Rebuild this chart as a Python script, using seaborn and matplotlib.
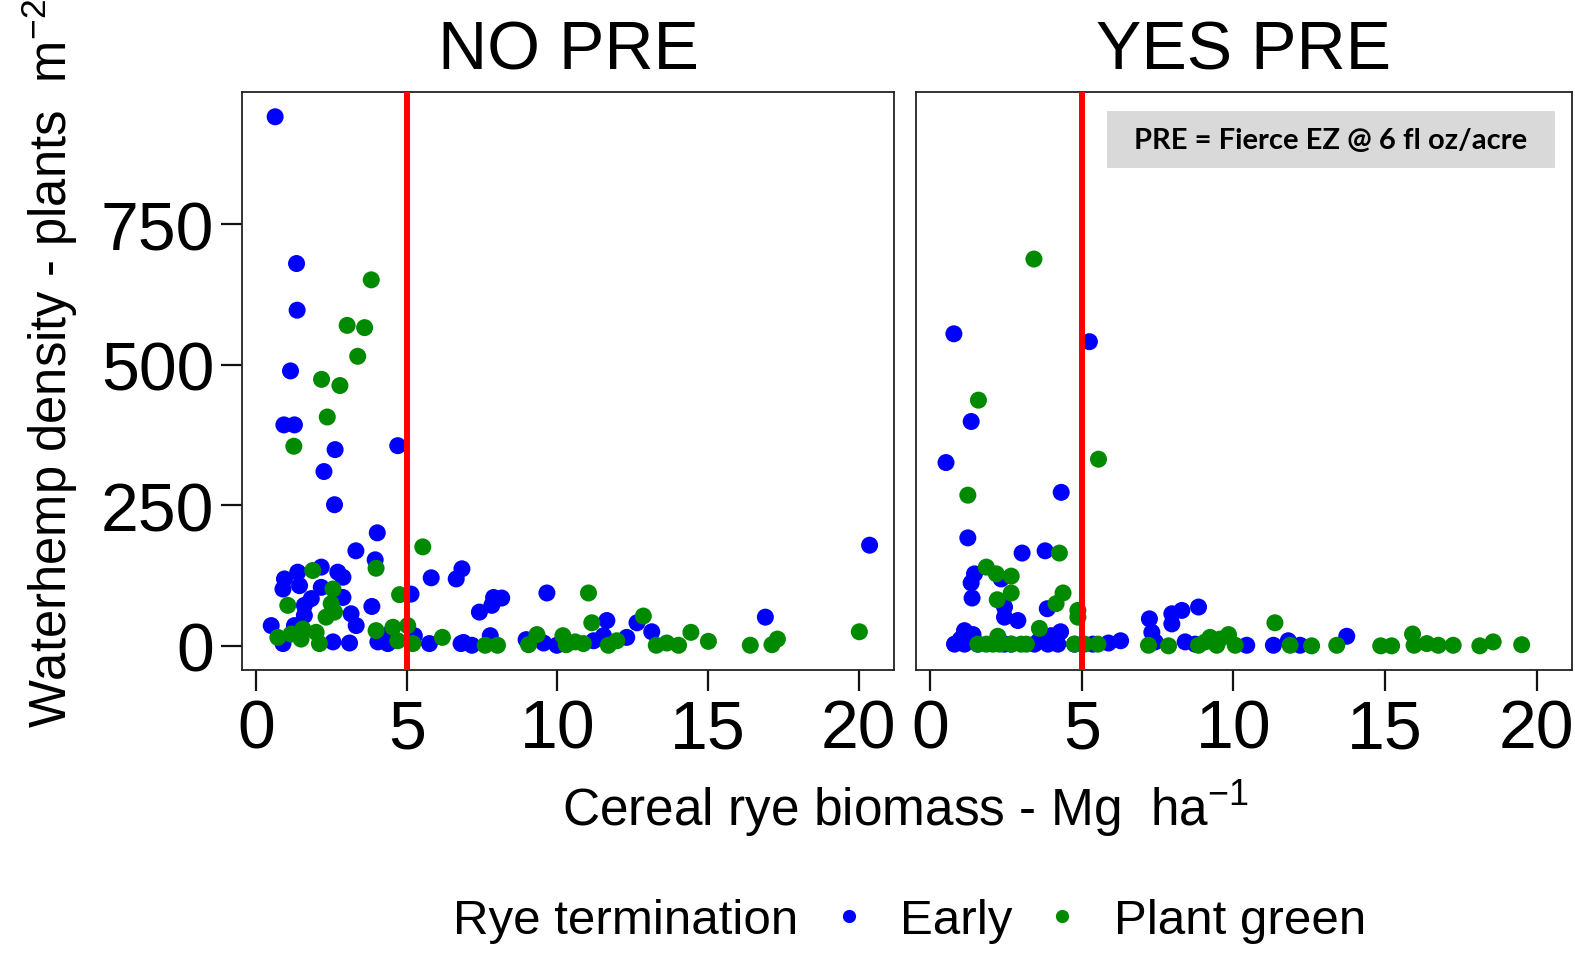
import matplotlib
matplotlib.use("Agg")
import matplotlib.pyplot as plt
from matplotlib.patches import Rectangle
from matplotlib.lines import Line2D
import seaborn as sns
import pandas as pd

# ---- data: cereal rye biomass (Mg/ha) vs waterhemp density (plants/m2) ----
no_pre_early_x = [0.63, 1.34, 1.36, 1.14, 0.92, 1.27, 2.62, 4.7, 2.25, 2.6, 4.02, 3.31, 3.95, 5.81,
                  6.64, 0.94, 1.38, 0.89, 1.44, 2.16, 2.71, 2.88, 2.16, 1.83, 2.88, 1.6, 1.6, 3.15,
                  3.32, 3.84, 5.14, 0.5, 1.27, 0.89, 2.55, 3.1, 4.42, 5.25, 4.04, 4.37, 5.75, 6.8,
                  6.83, 7.88, 8.15, 7.82, 7.41, 9.65, 16.9, 20.36, 11.64, 12.64, 13.13, 7.77, 6.88,
                  7.16, 8.96, 9.54, 9.98, 11.2, 11.53, 12.3]
no_pre_early_y = [941, 680, 597, 489, 393, 393, 349, 356, 310, 251, 201, 169, 153, 121,
                  119, 119, 131, 101, 107, 140, 131, 122, 104, 84, 86, 72, 54, 57,
                  36, 70, 92, 36, 36, 4, 7, 5, 21, 18, 7, 4, 4, 4,
                  137, 86, 85, 72, 60, 94, 51, 179, 45, 41, 25, 18, 6,
                  1, 11, 5, 1, 9, 18, 15]

no_pre_green_x = [3.82, 3.02, 3.6, 3.37, 2.17, 2.78, 2.36, 1.25, 3.98, 5.53, 1.88, 2.55, 1.05,
                  2.49, 2.6, 2.32, 4.76, 0.72, 1.16, 1.55, 1.99, 1.49, 2.1, 3.98, 4.54, 5.03,
                  4.7, 5.2, 6.18, 11.03, 20.02, 11.14, 12.85, 14.43, 15.01, 16.4, 17.12, 17.3,
                  7.6, 8.01, 9.04, 9.32, 10.18, 10.29, 10.59, 10.86, 11.69, 11.97, 13.28,
                  13.63, 14.02]
no_pre_green_y = [651, 570, 566, 515, 474, 463, 407, 355, 138, 176, 134, 101, 72,
                  75, 60, 51, 91, 15, 21, 30, 24, 12, 4, 27, 33, 36,
                  9, 4, 15, 94, 25, 41, 53, 24, 8, 1, 2, 12,
                  1, 1, 2, 20, 18, 2, 7, 4, 1, 9, 1,
                  5, 1]

yes_pre_early_x = [0.78, 5.25, 1.35, 0.52, 4.32, 1.24, 3.03, 3.79, 1.46, 2.34, 1.35, 1.38, 3.86,
                   2.45, 2.45, 2.89, 4.3, 1.13, 1.41, 3.99, 0.8, 1.13, 1.57, 2.45, 2.67, 3.44,
                   3.88, 4.21, 4.76, 5.36, 5.88, 6.28, 7.23, 7.97, 8.3, 8.85, 7.97, 7.31, 7.42,
                   8.41, 10.44, 11.32, 11.81, 12.2, 13.74, 8.74, 1.0, 3.6]
yes_pre_early_y = [555, 541, 399, 326, 273, 192, 165, 169, 128, 119, 112, 85, 66,
                   69, 51, 45, 25, 27, 20, 18, 3, 3, 3, 3, 3, 3,
                   3, 3, 3, 3, 5, 9, 48, 57, 63, 69, 39, 24, 7,
                   7, 1, 1, 9, 1, 17, 3, 12, 10]

yes_pre_green_x = [3.42, 1.59, 5.55, 1.24, 4.26, 1.85, 2.18, 2.67, 4.38, 2.67, 2.21, 4.15, 4.87,
                   4.87, 3.6, 2.23, 1.57, 1.85, 2.07, 2.29, 2.67, 3.0, 3.17, 4.76, 5.09, 5.53,
                   7.2, 7.86, 9.07, 9.23, 9.56, 9.84, 10.06, 11.37, 11.87, 12.58, 13.41, 14.86,
                   15.22, 15.91, 15.96, 16.38, 16.76, 17.25, 18.13, 18.57, 19.51, 8.85, 9.45]
yes_pre_green_y = [688, 437, 332, 268, 165, 140, 128, 124, 94, 94, 82, 75, 63,
                   51, 31, 17, 3, 3, 3, 3, 3, 3, 3, 3, 3, 3,
                   1, 0, 7, 15, 12, 20, 1, 41, 1, 0, 1, 0,
                   0, 21, 1, 4, 1, 1, 0, 7, 2, 1, 1]

panels = ["NO PRE", "YES PRE"]
groups = ["Early", "Plant green"]
x_ticks = [0, 5, 10, 15, 20]
y_ticks = [0, 250, 500, 750]
threshold = 5

# ---- tidy table ----
frames = []
for panel, group, xs, ys in [
    ("NO PRE", "Early", no_pre_early_x, no_pre_early_y),
    ("NO PRE", "Plant green", no_pre_green_x, no_pre_green_y),
    ("YES PRE", "Early", yes_pre_early_x, yes_pre_early_y),
    ("YES PRE", "Plant green", yes_pre_green_x, yes_pre_green_y),
]:
    frames.append(pd.DataFrame({"biomass": xs, "density": ys, "PRE": panel, "termination": group}))
df = pd.concat(frames, ignore_index=True)

# ---- style ----
sns.set_style("white")
plt.rcParams["font.family"] = ["Liberation Sans", "DejaVu Sans"]
plt.rcParams["mathtext.fontset"] = "custom"
plt.rcParams["mathtext.rm"] = "Liberation Sans"
plt.rcParams["mathtext.it"] = "Liberation Sans:italic"
plt.rcParams["mathtext.sf"] = "Liberation Sans"
for key in ["text.color", "axes.labelcolor", "xtick.color", "ytick.color"]:
    plt.rcParams[key] = "black"

palette = {"Early": "#0000ff", "Plant green": "#008a00"}

W, H = 1575, 954
fig = plt.figure(figsize=(W / 100, H / 100), dpi=100)


def fig_rect(x0, x1, ytop, ybot):
    return [x0 / W, 1 - ybot / H, (x1 - x0) / W, (ybot - ytop) / H]


axes = [fig.add_axes(fig_rect(242, 894, 92.5, 671)),
        fig.add_axes(fig_rect(916, 1572, 92.5, 671))]

xlim = (-0.47, 21.17)
ylim = (-43, 986)

for i, (ax, panel) in enumerate(zip(axes, panels)):
    sub = df[df["PRE"] == panel]
    sns.scatterplot(data=sub, x="biomass", y="density", hue="termination",
                    palette=palette, hue_order=groups, s=150, linewidth=0,
                    edgecolor="none", alpha=1, legend=False, ax=ax, zorder=3)
    ax.axvline(threshold, color="#ff0000", lw=4.3, zorder=4)
    ax.set_xlim(*xlim)
    ax.set_ylim(*ylim)
    ax.set_xticks(x_ticks)
    ax.set_xticklabels([str(t) for t in x_ticks])
    ax.set_xlabel("")
    ax.set_ylabel("")
    for sp in ax.spines.values():
        sp.set_visible(True)
        sp.set_color("#222222")
        sp.set_linewidth(1.3)
    ax.tick_params(axis="x", direction="out", length=15, width=1.6, color="#111111",
                   labelsize=49, pad=5, bottom=True, labelcolor="black")
    if i == 0:
        ax.set_yticks(y_ticks)
        ax.set_yticklabels([str(t) for t in y_ticks])
        ax.tick_params(axis="y", direction="out", length=15, width=1.6, color="#111111",
                       labelsize=49, pad=5, left=True, labelcolor="black")
    else:
        ax.set_yticks([])
    ax.set_facecolor("white")
    fig.text((ax.get_position().x0 + ax.get_position().x1) / 2, 1 - 70 / H, panel,
             ha="center", va="baseline", fontsize=49, color="black")

# herbicide note
fig.patches.append(Rectangle((1107 / W, 1 - 169 / H), (1555 - 1107) / W, (169 - 111.5) / H,
                             transform=fig.transFigure, facecolor="#d9d9d9",
                             edgecolor="none", zorder=5))
fig.text(1331 / W, 1 - 140.5 / H, "PRE = Fierce EZ @ 6 fl oz/acre", ha="center", va="center",
         fontsize=21, fontweight="bold", family=["Lato", "DejaVu Sans"], color="black", zorder=6)

# axis titles
fig.text(906 / W, 1 - 826 / H, r"Cereal rye biomass - Mg  ha$^{-1}$", ha="center",
         va="baseline", fontsize=37, color="black")
fig.text(50 / W, 1 - 363 / H, r"Waterhemp density - plants  m$^{-2}$", ha="center",
         va="center", rotation=90, fontsize=36.5, color="black")

# legend
fig.text(453 / W, 1 - 922 / H, "Rye termination", ha="left", va="center", fontsize=35.5,
         color="black")
handles = [Line2D([], [], marker="o", linestyle="none", markersize=9.5, color=palette[g],
                  markeredgewidth=0) for g in groups]
leg = fig.legend(handles, groups, loc="center left", bbox_to_anchor=(824 / W, 1 - 922 / H),
                 ncol=2, frameon=False, fontsize=35.5, handletextpad=0.55, columnspacing=0.5,
                 handlelength=1.0, borderaxespad=0, borderpad=0)
for t in leg.get_texts():
    t.set_color("black")

fig.savefig("out.png", dpi=100, facecolor="white")
